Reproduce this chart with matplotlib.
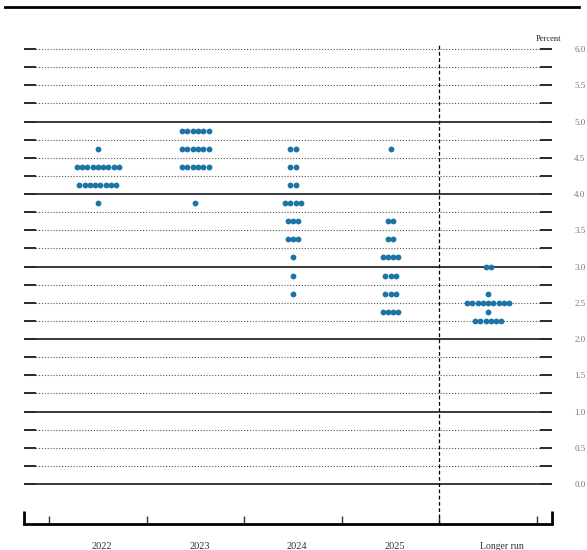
import numpy as np
import matplotlib
matplotlib.use('Agg')
import matplotlib.pyplot as plt

# categories on the x axis
categories = ['2022', '2023', '2024', '2025', 'Longer run']

# midpoint of target range (percent) and number of participants at each
rates_2022 = [4.625, 4.375, 4.125, 3.875]
counts_2022 = [1, 9, 8, 1]
rates_2023 = [4.875, 4.625, 4.375, 3.875]
counts_2023 = [6, 6, 6, 1]
rates_2024 = [4.625, 4.375, 4.125, 3.875, 3.625, 3.375, 3.125, 2.875, 2.625]
counts_2024 = [2, 2, 2, 4, 3, 3, 1, 1, 1]
rates_2025 = [4.625, 3.625, 3.375, 3.125, 2.875, 2.625, 2.375]
counts_2025 = [1, 2, 2, 4, 3, 3, 4]
rates_lr = [3.0, 2.625, 2.5, 2.375, 2.25]
counts_lr = [2, 1, 9, 1, 6]

y_labels = ['0.0', '0.5', '1.0', '1.5', '2.0', '2.5', '3.0', '3.5', '4.0', '4.5', '5.0', '5.5', '6.0']

all_rates = [rates_2022, rates_2023, rates_2024, rates_2025, rates_lr]
all_counts = [counts_2022, counts_2023, counts_2024, counts_2025, counts_lr]

serif = ['Liberation Serif', 'DejaVu Serif']
dot_color = '#1b74a5'
step = 0.054

fig = plt.figure(figsize=(5.87, 5.5), dpi=100)
ax = fig.add_axes([24/587, 26/550, 528/587, 479/550])
x0, x1 = -0.756, 4.654
y0, y1 = -0.55, 6.055
ax.set_xlim(x0, x1)
ax.set_ylim(y0, y1)

# horizontal grid, solid on whole numbers, dotted otherwise
for k in range(25):
    y = k * 0.25
    if k % 4 == 0 and k < 24:
        ax.axhline(y, color='#2a2a2a', lw=1.3, zorder=1)
    else:
        ax.axhline(y, color='#555555', lw=0.8, ls=(0, (1, 1.6)), zorder=1)

# dots
for i, (rates, counts) in enumerate(zip(all_rates, all_counts)):
    for r, n in zip(rates, counts):
        xs = i + (np.arange(n) - (n - 1) / 2) * step
        ax.plot(xs, [r] * n, 'o', color=dot_color, ms=4.2, mew=0, zorder=3)

# dashed divider before longer run
ax.plot([3.5, 3.5], [y0, y1], color='black', lw=0.9, ls=(0, (3, 2)), zorder=2, clip_on=False)

for s in ['top', 'left', 'right']:
    ax.spines[s].set_visible(False)
ax.spines['bottom'].set_linewidth(2)

# short end posts at the bottom
ax.plot([x0, x0], [y0, y0 + 13/72.5], color='black', lw=2, clip_on=False, solid_capstyle='butt')
ax.plot([x1, x1], [y0, y0 + 13/72.5], color='black', lw=2, clip_on=False, solid_capstyle='butt')

ax.set_xticks(np.arange(-0.5, 5.0, 1.0))
ax.set_xticklabels([])
ax.tick_params(axis='x', direction='in', length=6, width=1, color='#333333')

ax.set_yticks(np.arange(0, 6.01, 0.5))
ax.set_yticklabels(y_labels)
ax.set_yticks(np.arange(0, 6.01, 0.25), minor=True)
ax.tick_params(axis='y', which='both', direction='in', length=8.5, width=1.4, color='#2a2a2a',
               left=True, right=True, labelleft=False, labelright=True, pad=16)
for lab in ax.get_yticklabels():
    lab.set_family(serif)
    lab.set_fontsize(6.5)
    lab.set_color('#777777')

# category labels under the axis
offsets = [0.045, 0.045, 0.045, 0.045, 0.14]
for i, name in enumerate(categories):
    ax.text(i + offsets[i], -0.86, name, ha='center', va='center', family=serif,
            fontsize=7 if i == 4 else 7.5, color='#333333')

ax.text(4.62, 6.14, 'Percent', ha='center', va='center', family=serif, fontsize=6, color='#222222')

# rule across the top of the page
fig.add_artist(plt.Line2D([5/587, 579/587], [1 - 6.5/550, 1 - 6.5/550], color='black', lw=2))

fig.savefig('out.png', dpi=100)
